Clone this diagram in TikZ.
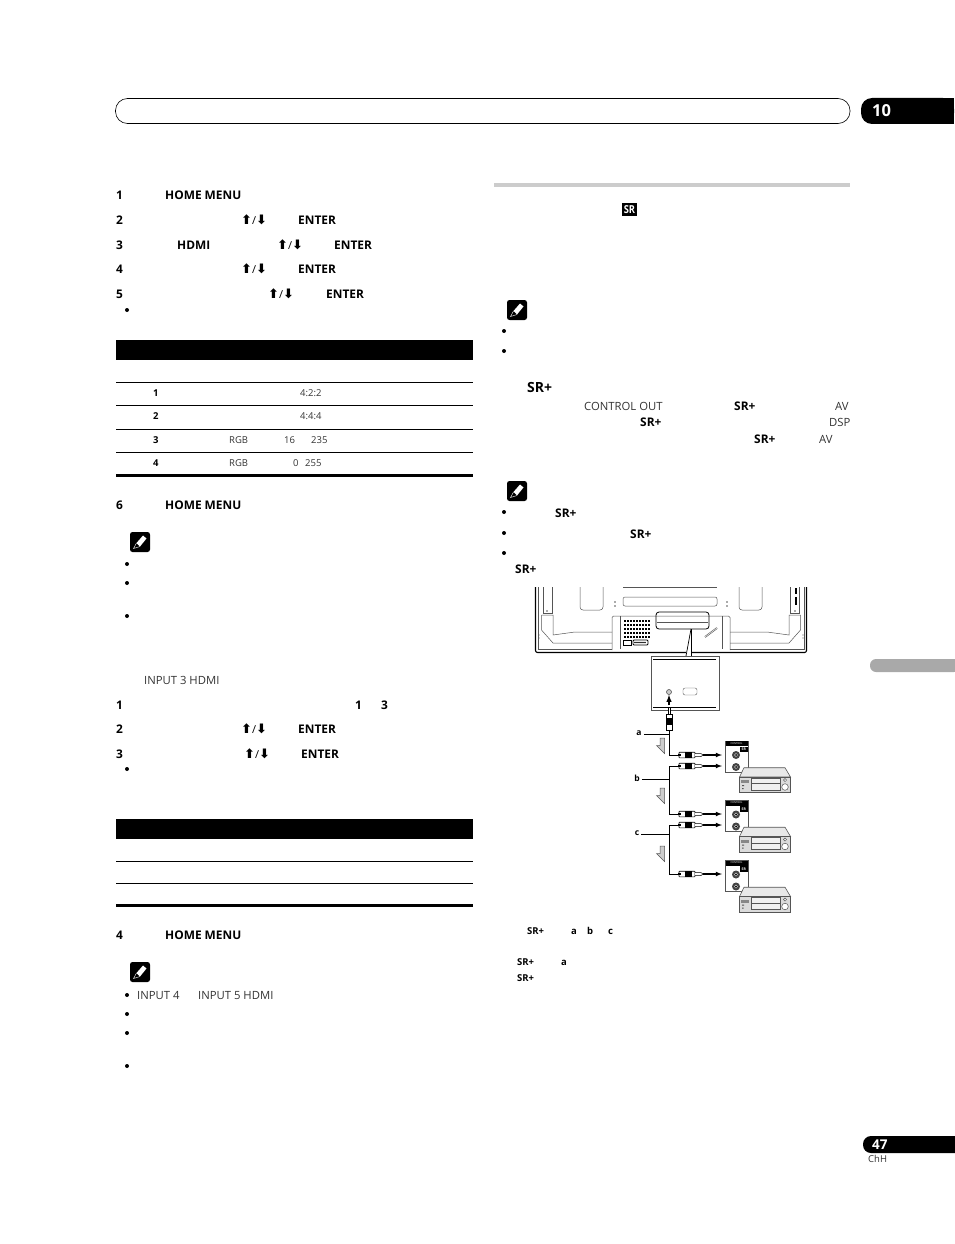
\documentclass[tikz,border=0pt]{standalone}
\usepackage{fontspec}
\setmainfont{Open Sans}
\newfontfamily\arrowfont{DejaVu Sans}
\usepackage{tikz}
\definecolor{softtext}{HTML}{333333}
\definecolor{softrule}{HTML}{CCCCCC}
\definecolor{sidetab}{HTML}{A9A9A9}
\definecolor{linegrey}{HTML}{555555}
\newcommand{\keyarrows}{{\arrowfont\bfseries\fontsize{13}{14}\selectfont\symbol{"2B06}}{\fontsize{11}{12}\mdseries\selectfont/}{\arrowfont\bfseries\fontsize{13}{14}\selectfont\symbol{"2B07}}}
\tikzset{
    boldtxt/.style={anchor=base west, inner sep=0pt, font=\fontsize{11.9}{14}\selectfont\bfseries},
    softtxt/.style={anchor=base west, inner sep=0pt, text=softtext, font=\fontsize{11.3}{13}\selectfont},
    cellbold/.style={anchor=base west, inner sep=0pt, font=\fontsize{9.5}{11}\selectfont\bfseries},
    cellsoft/.style={anchor=base west, inner sep=0pt, text=softtext, font=\fontsize{9.5}{11}\selectfont},
    tinybold/.style={anchor=base west, inner sep=0pt, font=\fontsize{9.5}{11}\selectfont\bfseries},
    letterbold/.style={anchor=center, inner sep=0pt, font=\fontsize{8.5}{10}\selectfont\bfseries},
    wire/.style={line width=1pt},
    tvline/.style={linegrey, line width=0.5pt},
}
\begin{document}
\begin{tikzpicture}[x=1pt,y=-1pt]
    \useasboundingbox (0,0) rectangle (954,1244);
    \draw[line width=0.6pt, rounded corners=12pt] (115.5,98.5) rectangle (850,123.5);
    \fill[rounded corners=11pt] (861,98) -- (954,98) -- (954,124) -- (861,124) -- cycle;
    \fill (900,98) rectangle (954,124);
    \node[boldtxt, text=white, font=\fontsize{16.5}{18}\selectfont\bfseries] (chapter) at (872,117) {10};
    \fill[softrule] (494,183) rectangle (850,186.5);
    \fill[sidetab, rounded corners=6pt] (870,659) rectangle (960,672);
    \fill[rounded corners=8pt] (863,1136) rectangle (970,1153);
    \node[boldtxt, text=white, font=\fontsize{13.5}{15}\selectfont\bfseries] (pagenum) at (872,1149.5) {47};
    \node[cellsoft] (lang) at (868,1162.5) {ChH};

    \foreach \x/\y/\t [count=\i] in {116/199/1, 165/199/HOME MENU, 116/224/2, 298/224/ENTER,
        116/249/3, 177/249/HDMI, 334/249/ENTER, 116/273/4, 298/273/ENTER, 116/298/5, 326/298/ENTER,
        116/509/6, 165/509/HOME MENU, 116/709/1, 355/709/1, 381/709/3, 116/733/2, 298/733/ENTER,
        116/758/3, 301/758/ENTER, 116/939/4, 165/939/HOME MENU,
        734/410/SR+, 640/426/SR+, 754/443/SR+, 555/517/SR+, 630/538/SR+, 515/573/SR+}
        \node[boldtxt] (bold\i) at (\x,\y) {\t};
    \node[boldtxt, font=\fontsize{14}{16}\selectfont\bfseries] (srtitle) at (527,392) {SR+};

    \foreach \x/\y [count=\i] in {241/224, 277/249, 241/273, 268/298, 241/733, 244/758}
        \node[boldtxt] (keys\i) at (\x,\y) {\keyarrows};

    \foreach \x/\y/\t [count=\i] in {144/684/INPUT 3 HDMI, 137/999/INPUT 4, 198/999/INPUT 5 HDMI,
        584/410/CONTROL OUT, 835/410/AV, 829/426/DSP, 819/443/AV}
        \node[softtxt] (soft\i) at (\x,\y) {\t};

    \foreach \y in {310,564,583,616,769,995,1014,1033,1066}
        \fill (127,\y) circle (2);
    \foreach \y in {331,351,512,533,553}
        \fill (504,\y) circle (2);

    \foreach \y in {340,819}
        \fill (116,\y) rectangle (473,\y+20);
    \foreach \y in {382.5,405.5,429.5,452.5,861.5,883.5}
        \draw[line width=0.7pt] (116,\y) -- (473,\y);
    \foreach \y in {475.5,905.5}
        \draw[line width=2.8pt] (116,\y) -- (473,\y);

    \foreach \x/\y/\t [count=\i] in {153/396.5/1, 153/419.5/2, 153/443.5/3, 153/466.5/4}
        \node[cellbold] (row\i) at (\x,\y) {\t};
    \foreach \x/\y/\t [count=\i] in {300/396.5/4:2:2, 300/419.5/4:4:4, 229/443.5/RGB, 284/443.5/16,
        311/443.5/235, 229/466.5/RGB, 293/466.5/0, 305/466.5/255}
        \node[cellsoft] (cell\i) at (\x,\y) {\t};

    \foreach \x/\y in {130/532, 507/300, 507/481, 130/962} {
        \begin{scope}[shift={(\x,\y)}]
            \fill[rounded corners=2.5pt] (0,0) rectangle (20,20);
            \fill[white] (6.5,11) -- (13,3.5) -- (16.5,6.5) -- (10,14.5) -- cycle;
            \draw[white, line width=0.4pt] (6.5,11) -- (3.5,16.5) -- (10,14.5);
        \end{scope}
    }

    \fill (622,203) rectangle (637,215.5);
    \node[anchor=center, inner sep=0pt, text=white, xscale=0.85, font=\fontsize{11}{12}\selectfont\bfseries] (sricon) at (629.5,209.5) {SR};

    \foreach \x/\y/\t [count=\i] in {527/934.5/SR+, 571/934.5/a, 587/934.5/b, 608/934.5/c, 517/965.5/SR+, 561/965.5/a, 517/981.5/SR+}
        \node[tinybold] (foot\i) at (\x,\y) {\t};

    \draw[line width=1.1pt, rounded corners=2pt] (535.5,587) -- (535.5,652.5) -- (806.5,652.5) -- (806.5,587);
    \foreach \m in {0,1} {
        \begin{scope}[shift={(\m*1342,0)}, xscale=1-2*\m]
            \draw[tvline] (538,587) -- (538,649) -- (612,649);
            \draw[tvline] (543,587) -- (543,613) -- (552,613) -- (552,587);
            \draw[tvline] (541.5,615) -- (553,615) -- (553,635) -- (575,632) -- (612,632);
            \draw[tvline] (541.5,615) -- (541.5,630) -- (553,643) -- (612,643);
            \draw[tvline, rounded corners=3pt] (580,587) -- (580,610) -- (603,610) -- (603,587);
            \fill[linegrey] (547,611) circle (0.8) (539,635) circle (0.6) (539,638) circle (0.6) (615,602) circle (0.8) (615,606) circle (0.8);
        \end{scope}
    }
    \fill (795,588) rectangle (797,594);
    \fill (795,597) rectangle (797,605);
    \draw[tvline] (623,587) -- (717,587);
    \draw[tvline, rounded corners=2pt] (623,597) rectangle (717,606);
    \draw[tvline, rounded corners=1.5pt] (612,650) -- (612,616) -- (730,616) -- (730,650);
    \draw[tvline] (620,616) -- (620,649) (722,616) -- (722,649);
    \foreach \x in {624,627,...,648}
        \foreach \y in {620,624,...,636}
            \fill (\x,\y) rectangle (\x+2.2,\y+2.2);
    \draw[fill=white, rounded corners=1pt, line width=0.8pt] (633,640) rectangle (648,645);
    \foreach \x in {635,637,...,646}
        \fill (\x,642.5) circle (0.8);
    \draw[line width=0.7pt] (623,640) rectangle (631,645);
    \draw[line width=1.7pt, linegrey] (705,637) -- (717,628);
    \draw[white, line width=0.5pt] (705,637) -- (717,628);
    \draw[line width=0.8pt, rounded corners=3pt] (656,612) rectangle (709,629);
    \draw[tvline] (657,622) -- (708,622);

    \coordinate (zoomtip) at (691,629);
    \fill[white] (686,650) rectangle (691,656);
    \draw[line width=0.7pt] (zoomtip) -- (686,656);
    \draw[line width=0.7pt] (zoomtip) -- (691,656);
    \draw[linegrey, line width=0.7pt, fill=white] (651,656) rectangle (719,710);
    \draw[line width=1.5pt] (653,659.5) -- (716,659.5);
    \draw[line width=0.7pt] (653,707) -- (716,707);
    \node[circle, draw=linegrey, line width=0.6pt, fill=softrule, minimum size=5pt, inner sep=0pt] (ctrljack) at (669,692) {};
    \draw[linegrey, fill=white, rounded corners=2pt] (683,688) rectangle (697,695);
    \coordinate (plugtop) at (669,705);
    \draw[-latex, line width=1.4pt] (plugtop) -- (ctrljack);

    \draw[line width=0.6pt, fill=white] (668,707) rectangle (670.5,714);
    \draw[line width=0.6pt, fill=white] (666,714) rectangle (672,730);
    \fill (666,718) rectangle (672,725);
    \coordinate (plugend) at (669,730);

    \foreach \n/\y in {1/755,2/766,3/814,4/825,5/874} {
        \coordinate (wire\n) at (678,\y);
        \draw[line width=0.6pt, fill=white, rounded corners=0.5pt] (679,\y-2.8) rectangle (695,\y+2.8);
        \fill (678,\y-1.2) rectangle (681,\y+1.2);
        \fill (685,\y-2.8) rectangle (692,\y+2.8);
        \draw[line width=0.5pt, fill=white] (695,\y-1.5) -- (701,\y-1.5) -- (703,\y) -- (701,\y+1.5) -- (695,\y+1.5);
        \draw[-latex, line width=1.1pt] (703,\y) -- (722,\y);
    }
    \coordinate (brancha) at (669,734);
    \coordinate (branchb) at (669,779);
    \coordinate (branchc) at (669,834);
    \draw[wire] (plugend) -- (669,755) -- (wire1);
    \draw[wire] (wire2) -- (669,766) -- (669,814) -- (wire3);
    \draw[wire] (wire4) -- (669,825) -- (669,874) -- (wire5);
    \node[letterbold] (labela) at (639,733) {a};
    \node[letterbold] (labelb) at (637,778) {b};
    \node[letterbold] (labelc) at (637,833) {c};
    \draw[line width=0.7pt] (labela.east |- brancha) ++(2,0) -- (brancha);
    \draw[line width=0.7pt] (labelb.east |- branchb) ++(2,0) -- (branchb);
    \draw[line width=0.7pt] (labelc.east |- branchc) ++(2,0) -- (branchc);

    \foreach \s in {0,50,108}
        \draw[linegrey, fill=softrule, line width=0.5pt] (660,738+\s) -- (664.5,738+\s) -- (664.5,753.5+\s) -- (656.5,745.5+\s) -- (660,745.5+\s) -- cycle;

    \foreach \s [count=\i] in {0,59.5,119.5} {
        \begin{scope}[shift={(0,\s)}]
            \draw[linegrey, line width=0.5pt, fill=white] (725.5,741) rectangle (748,772);
            \fill (725.5,741) rectangle (748,746);
            \node[anchor=center, inner sep=0pt, text=white, font=\fontsize{2.6}{3}\selectfont] (ctrl\i) at (736.5,743.5) {CONTROL};
            \fill (740,746.5) rectangle (747.5,752);
            \node[anchor=center, inner sep=0pt, text=white, font=\fontsize{3.5}{4}\selectfont\bfseries] (sr\i) at (743.7,749.3) {SR};
            \foreach \y in {755,767} {
                \fill[linegrey!80!black] (736,\y) circle (4);
                \fill[softrule] (736,\y) circle (1.8);
                \fill (736,\y) circle (1);
            }
            \draw[linegrey, line width=0.6pt, fill=softrule!45] (739.5,777) -- (744,767.7) -- (785,767.7) -- (790.5,777) -- cycle;
            \draw[linegrey, line width=0.6pt, fill=softrule!70] (739.5,777) rectangle (790.5,792.7);
            \draw[linegrey, line width=0.5pt, fill=softrule!30] (751,778) rectangle (780,790);
            \draw[linegrey, line width=0.4pt] (751,783.5) -- (780,783.5);
            \fill[linegrey!70] (741,780) rectangle (749,783);
            \fill[linegrey] (742,785) rectangle (744,786) (742,788) rectangle (743.5,789);
            \draw[linegrey, line width=0.5pt, fill=white] (785,787) circle (3.3);
            \draw[linegrey, line width=0.5pt, fill=white] (785,780) circle (1.6);
        \end{scope}
    }
\end{tikzpicture}
\end{document}
